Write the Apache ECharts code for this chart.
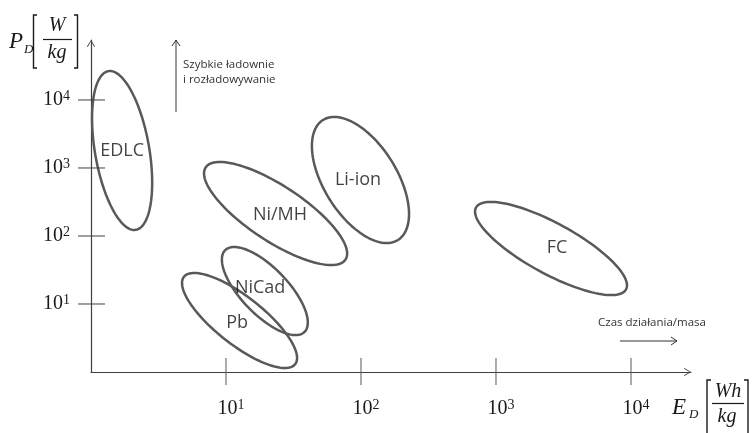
<!DOCTYPE html>
<html><head><meta charset="utf-8">
<script src="https://cdn.jsdelivr.net/npm/echarts@6/dist/echarts.min.js"></script>
<style>html,body{margin:0;padding:0;background:#fff}#c{width:752px;height:433px}</style>
</head><body><div id="c"></div>
<script>
// Ragone plot regions (log-log). Each region: centre, one tip of the major axis, minor/major ratio
const regions    = ['EDLC', 'Ni/MH', 'Li-ion', 'NiCad', 'Pb', 'FC'];
const centerE    = [1.70, 23.3, 99.1, 19.4, 12.6, 2556];
const centerP    = [1808, 214, 666, 15.5, 5.72, 65.5];
const tipE       = [1.345, 7.07, 52.3, 9.88, 4.88, 711];
const tipP       = [26560, 1017, 5080, 62.1, 25.1, 262];
const widthRatio = [0.337, 0.331, 0.515, 0.409, 0.337, 0.296];
const labelE     = [1.70, 25.1, 95, 17.9, 12.1, 2831];
const labelP     = [1808, 204, 666, 17.2, 5.26, 66.6];
// axis ticks (powers of ten)
const tickValues = [10, 100, 1000, 10000];
const tickExp    = [1, 2, 3, 4];
const xMax = 27826, yMax = 76200;

const serif = 'Liberation Serif';
const sans = 'Open Sans';
const INK = '#1a1a1a';
const GREY = '#595959';

function powLabel(v, isX) {
  const i = tickValues.findIndex(t => Math.abs(t - v) / t < 1e-6);
  if (i < 0) return '';
  return '{' + (isX ? 'bx' : 'b') + '|10}{s|' + tickExp[i] + '}';
}
const rich = {
  b:  {fontFamily: serif, fontSize: 20, color: INK, lineHeight: 22},
  bx: {fontFamily: serif, fontSize: 20, color: INK, lineHeight: 22, padding: [0, 0, 0, 10]},
  s:  {fontFamily: serif, fontSize: 14, color: INK, lineHeight: 11, verticalAlign: 'top'}
};
const chevron = 'path://M5,0 L10,8 L9,8.6 L5,1.6 L1,8.6 L0,8 Z';

const chart = echarts.init(document.getElementById('c'), null, {renderer: 'canvas'});
chart.setOption({
  animation: false,
  backgroundColor: '#fff',
  grid: {left: 91, right: 61, top: 40, bottom: 61, containLabel: false},
  xAxis: {
    type: 'log', logBase: 10, min: 1, max: xMax,
    axisLine: {show: true, lineStyle: {color: '#404040', width: 1.2},
      symbol: ['none', chevron], symbolSize: [9, 7], symbolOffset: [0, -3.5]},
    axisTick: {show: false}, splitLine: {show: false}, minorTick: {show: false},
    axisLabel: {show: true, margin: 26, formatter: v => powLabel(v, true), rich: rich,
      showMinLabel: true, showMaxLabel: true, hideOverlap: false}
  },
  yAxis: {
    type: 'log', logBase: 10, min: 1, max: yMax,
    axisLine: {show: true, lineStyle: {color: '#404040', width: 1.2},
      symbol: ['none', chevron], symbolSize: [9, 7], symbolOffset: [0, -3.5]},
    axisTick: {show: false}, splitLine: {show: false}, minorTick: {show: false},
    axisLabel: {show: true, margin: 21, formatter: v => powLabel(v, false), rich: rich,
      showMinLabel: true, showMaxLabel: true, hideOverlap: false}
  },
  series: [
    {
      type: 'custom', name: 'regions', clip: false,
      encode: {x: [0, 2], y: [1, 3]},
      data: regions.map((n, i) => [centerE[i], centerP[i], tipE[i], tipP[i], widthRatio[i]]),
      renderItem: (params, api) => {
        const c = api.coord([api.value(0), api.value(1)]);
        const t = api.coord([api.value(2), api.value(3)]);
        const dx = c[0] - t[0], dy = c[1] - t[1];
        const a = Math.hypot(dx, dy), b = a * api.value(4), ang = Math.atan2(dy, dx);
        const ca = Math.cos(ang), sa = Math.sin(ang);
        const pts = [];
        for (let k = 0; k < 120; k++) {
          const th = k / 120 * 2 * Math.PI;
          const ex = a * Math.cos(th), ey = b * Math.sin(th);
          pts.push([c[0] + ex * ca - ey * sa, c[1] + ex * sa + ey * ca]);
        }
        return {type: 'polygon', shape: {points: pts}, style: {fill: 'none', stroke: GREY, lineWidth: 2.5}};
      }
    },
    {
      type: 'scatter', name: 'labels', symbolSize: 1,
      itemStyle: {color: 'rgba(0,0,0,0)'},
      data: regions.map((n, i) => [labelE[i], labelP[i]]),
      label: {show: true, position: 'inside', formatter: p => regions[p.dataIndex],
        color: '#111', fontFamily: sans, fontSize: 18}
    },
    {
      type: 'custom', name: 'xticks', clip: false,
      data: tickValues.map(v => [v, 1]),
      renderItem: (params, api) => {
        const p = api.coord([api.value(0), api.value(1)]);
        return {type: 'line', shape: {x1: p[0], y1: p[1] - 14, x2: p[0], y2: p[1] + 13},
          style: {stroke: GREY, lineWidth: 1}};
      }
    },
    {
      type: 'custom', name: 'yticks', clip: false,
      data: tickValues.map(v => [1, v]),
      renderItem: (params, api) => {
        const p = api.coord([api.value(0), api.value(1)]);
        return {type: 'line', shape: {x1: p[0] - 13, y1: p[1], x2: p[0] + 14, y2: p[1]},
          style: {stroke: '#404040', lineWidth: 1}};
      }
    }
  ],
  graphic: [
    // y axis title P_D [W/kg]
    {type: 'text', left: 9, top: 30, style: {text: 'P', font: 'italic 23px "Liberation Serif"', fill: INK}},
    {type: 'text', left: 24, top: 43, style: {text: 'D', font: 'italic 13px "Liberation Serif"', fill: INK}},
    {type: 'polyline', shape: {points: [[37, 15], [33.5, 15], [33.5, 68], [37, 68]]}, style: {stroke: INK, lineWidth: 1.4, fill: 'none'}},
    {type: 'polyline', shape: {points: [[74, 15], [77.5, 15], [77.5, 68], [74, 68]]}, style: {stroke: INK, lineWidth: 1.4, fill: 'none'}},
    {type: 'text', x: 57, y: 26, style: {text: 'W', font: 'italic 20px "Liberation Serif"', fill: INK, align: 'center', verticalAlign: 'middle'}},
    {type: 'line', shape: {x1: 43, y1: 39.5, x2: 72, y2: 39.5}, style: {stroke: INK, lineWidth: 1.2}},
    {type: 'text', x: 57, y: 53, style: {text: 'kg', font: 'italic 20px "Liberation Serif"', fill: INK, align: 'center', verticalAlign: 'middle'}},
    // x axis title E_D [Wh/kg]
    {type: 'text', left: 672, top: 396, style: {text: 'E', font: 'italic 23px "Liberation Serif"', fill: INK}},
    {type: 'text', left: 689, top: 408, style: {text: 'D', font: 'italic 13px "Liberation Serif"', fill: INK}},
    {type: 'polyline', shape: {points: [[711, 380], [707, 380], [707, 440]]}, style: {stroke: INK, lineWidth: 1.4, fill: 'none'}},
    {type: 'polyline', shape: {points: [[744, 380], [748, 380], [748, 440]]}, style: {stroke: INK, lineWidth: 1.4, fill: 'none'}},
    {type: 'text', x: 728, y: 392, style: {text: 'Wh', font: 'italic 20px "Liberation Serif"', fill: INK, align: 'center', verticalAlign: 'middle'}},
    {type: 'line', shape: {x1: 712, y1: 403.5, x2: 744, y2: 403.5}, style: {stroke: INK, lineWidth: 1.2}},
    {type: 'text', x: 727, y: 417, style: {text: 'kg', font: 'italic 20px "Liberation Serif"', fill: INK, align: 'center', verticalAlign: 'middle'}},
    // annotation: fast charging
    {type: 'line', shape: {x1: 176, y1: 112, x2: 176, y2: 40}, style: {stroke: '#333', lineWidth: 1}},
    {type: 'polyline', shape: {points: [[172, 46], [176, 40], [180, 46]]}, style: {stroke: '#333', lineWidth: 1, fill: 'none'}},
    {type: 'text', left: 183, top: 57, style: {text: 'Szybkie ładownie\ni rozładowywanie', font: '11.5px "Open Sans"', lineHeight: 15, fill: '#333'}},
    // annotation: operating time / mass
    {type: 'text', left: 598, top: 317, style: {text: 'Czas działania/masa', font: '11.5px "Open Sans"', fill: '#333'}},
    {type: 'line', shape: {x1: 620, y1: 341, x2: 677, y2: 341}, style: {stroke: '#333', lineWidth: 1}},
    {type: 'polyline', shape: {points: [[671, 337], [677, 341], [671, 345]]}, style: {stroke: '#333', lineWidth: 1, fill: 'none'}}
  ]
});
</script></body></html>
